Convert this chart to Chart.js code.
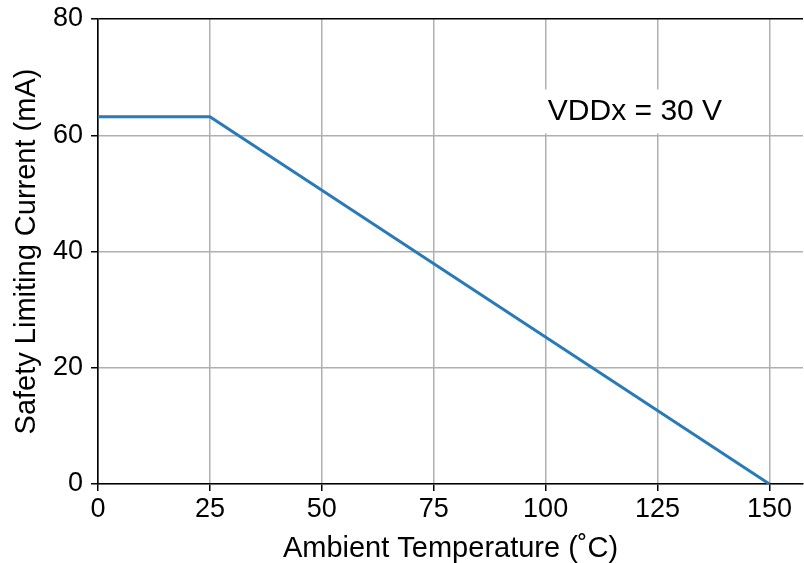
<!DOCTYPE html>
<html>
<head>
<meta charset="utf-8">
<script src="https://cdn.jsdelivr.net/npm/chart.js@4.4.1/dist/chart.umd.min.js"></script>
<style>
html,body{margin:0;padding:0;background:#fff;}
#wrap{width:804px;height:563px;position:relative;}
</style>
</head>
<body>
<div id="wrap"><canvas id="c" width="804" height="563"></canvas></div>
<script>
const temperatures = [0, 25, 150];
const currents = [63.2, 63.2, 0];
const xTicks = [0, 25, 50, 75, 100, 125, 150];
const yTicks = [0, 20, 40, 60, 80];
const xTitle = 'Ambient Temperature (\u02DAC)';
const yTitle = 'Safety Limiting Current (mA)';
const noteText = 'VDDx = 30 V';
const notePos = [100.5, 64.1];

const FONT = '"Liberation Sans", Arial, Helvetica, sans-serif';

const notePlugin = {
  id: 'note',
  beforeDatasetsDraw(chart) {
    const ctx = chart.ctx;
    const xs = chart.scales.x, ys = chart.scales.y;
    const px = xs.getPixelForValue(notePos[0]);
    const py = ys.getPixelForValue(notePos[1]);
    ctx.save();
    ctx.font = '30px ' + FONT;
    const w = ctx.measureText(noteText).width;
    ctx.fillStyle = '#fff';
    ctx.fillRect(px - 8, py - 22, w + 14, 44);
    ctx.fillStyle = '#000';
    ctx.textBaseline = 'middle';
    ctx.textAlign = 'left';
    ctx.fillText(noteText, px, py);
    ctx.restore();
  }
};

new Chart(document.getElementById('c'), {
  type: 'line',
  data: {
    datasets: [{
      data: temperatures.map((t, i) => ({x: t, y: currents[i]})),
      borderColor: '#2a7ab8',
      borderWidth: 3,
      pointRadius: 0,
      fill: false,
      tension: 0
    }]
  },
  options: {
    responsive: false,
    animation: false,
    devicePixelRatio: 1,
    layout: {padding: {top: 19, right: 1, left: 0, bottom: 0}},
    plugins: {legend: {display: false}, tooltip: {enabled: false}},
    scales: {
      x: {
        type: 'linear',
        min: 0,
        max: 157.5,
        afterBuildTicks(scale) { scale.ticks = xTicks.map(v => ({value: v})); },
        afterFit(scale) { scale.height = 79; scale.paddingLeft = 0; scale.paddingRight = 0; },
        grid: {
          color: '#b0b0b0',
          lineWidth: 1.5,
          tickColor: '#000',
          tickLength: 7,
          tickWidth: 1.5
        },
        border: {color: '#000', width: 1.6},
        ticks: {color: '#000', font: {family: FONT, size: 27}, padding: 2, maxRotation: 0},
        title: {display: true, text: xTitle, color: '#000', font: {family: FONT, size: 29, lineHeight: 1}, padding: 0}
      },
      y: {
        min: 0,
        max: 80,
        afterBuildTicks(scale) { scale.ticks = yTicks.map(v => ({value: v})); },
        afterFit(scale) { scale.width = 98; scale.paddingTop = 0; scale.paddingBottom = 0; },
        grid: {
          color: ctx => ctx.tick && ctx.tick.value === 80 ? '#000' : '#b0b0b0',
          lineWidth: ctx => ctx.tick && ctx.tick.value === 80 ? 1.6 : 1.5,
          tickColor: '#000',
          tickLength: 7,
          tickWidth: 1.5
        },
        border: {color: '#000', width: 1.6},
        ticks: {color: '#000', font: {family: FONT, size: 27}, padding: 8},
        title: {display: true, text: yTitle, color: '#000', font: {family: FONT, size: 29, lineHeight: 1}, padding: {top: 12, bottom: 0}}
      }
    }
  },
  plugins: [notePlugin]
});
</script>
</body>
</html>
